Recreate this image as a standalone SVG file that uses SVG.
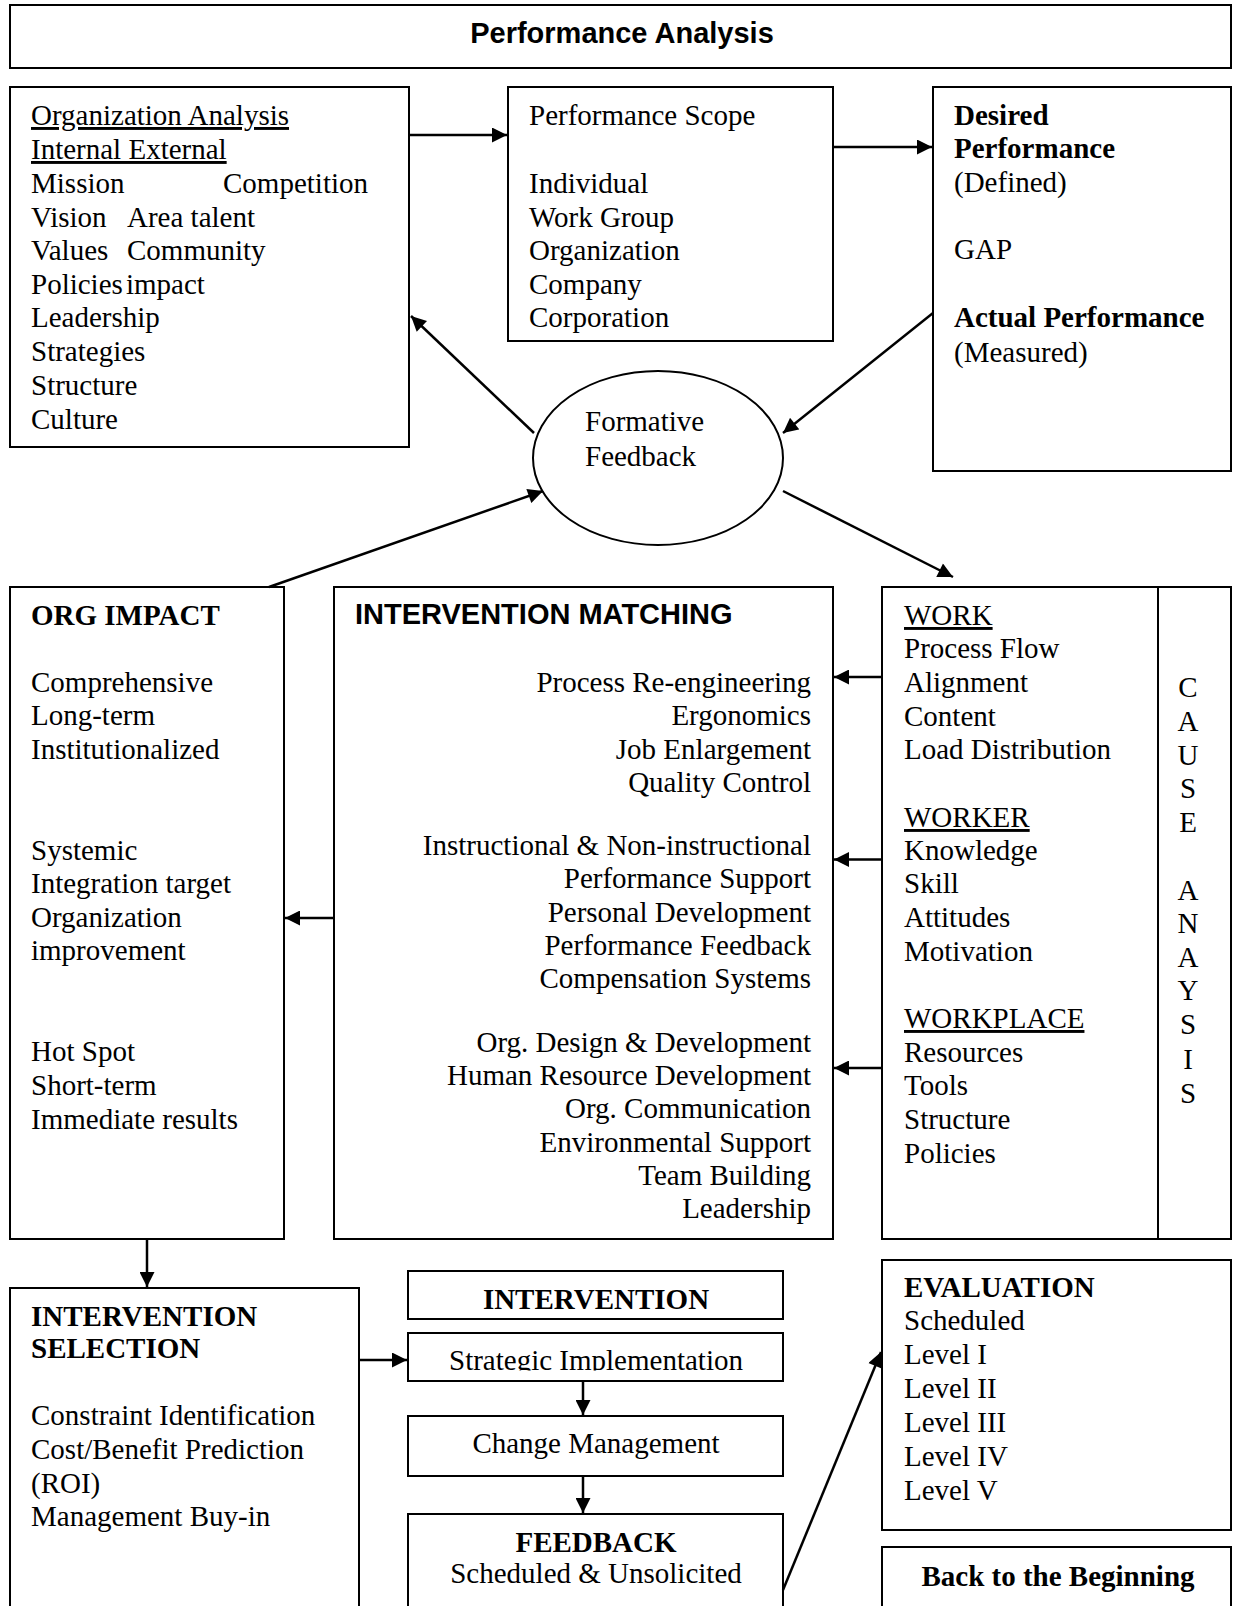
<svg xmlns="http://www.w3.org/2000/svg" width="1234" height="1606" viewBox="0 0 1234 1606">
<style>
.box{fill:#fff;stroke:#000;stroke-width:2}
.t{font-family:"Liberation Serif","Times New Roman",serif;font-size:29px;fill:#000}
.b{font-weight:bold}
.s{font-family:"Liberation Sans",Arial,sans-serif;font-weight:bold;fill:#000}
.u{text-decoration:underline}
.c{text-anchor:middle}
.r{text-anchor:end}
.ln{stroke:#000;stroke-width:2.5;fill:none}
</style>
<defs>
<marker id="ah" viewBox="0 0 16 16" refX="16" refY="8" markerWidth="16" markerHeight="15" markerUnits="userSpaceOnUse" orient="auto">
<path d="M0,0 L16,8 L0,16 z" fill="#000"/>
</marker>
<clipPath id="clipSI"><rect x="408" y="1333" width="375" height="37.5"/></clipPath>
</defs>
<rect width="1234" height="1606" fill="#fff"/>

<g id="title">
<rect class="box" x="10" y="5" width="1221" height="63"/>
<text class="s c" x="622" y="43" font-size="29">Performance Analysis</text>
</g>

<g id="org-analysis">
<rect class="box" x="10" y="87" width="399" height="360"/>
<text class="t u" x="31" y="125">Organization Analysis</text>
<text class="t u" x="31" y="159">Internal External</text>
<text class="t" x="31" y="193">Mission<tspan x="223">Competition</tspan></text>
<text class="t" x="31" y="227">Vision<tspan x="127">Area talent</tspan></text>
<text class="t" x="31" y="260">Values<tspan x="127">Community</tspan></text>
<text class="t" x="31" y="294">Policies<tspan x="126">impact</tspan></text>
<text class="t" x="31" y="327">Leadership</text>
<text class="t" x="31" y="361">Strategies</text>
<text class="t" x="31" y="395">Structure</text>
<text class="t" x="31" y="429" font-size="31">Culture</text>
</g>

<g id="performance-scope">
<rect class="box" x="508" y="87" width="325" height="254"/>
<text class="t" x="529" y="125">Performance Scope</text>
<text class="t" x="529" y="193">Individual</text>
<text class="t" x="529" y="227">Work Group</text>
<text class="t" x="529" y="260">Organization</text>
<text class="t" x="529" y="294">Company</text>
<text class="t" x="529" y="327">Corporation</text>
</g>

<g id="desired-performance">
<rect class="box" x="933" y="87" width="298" height="384"/>
<text class="t b" x="954" y="125">Desired</text>
<text class="t b" x="954" y="158">Performance</text>
<text class="t" x="954" y="192">(Defined)</text>
<text class="t" x="954" y="259">GAP</text>
<text class="t b" x="954" y="327">Actual Performance</text>
<text class="t" x="954" y="362">(Measured)</text>
</g>

<g id="formative-feedback">
<ellipse cx="658" cy="458" rx="125" ry="87" fill="#fff" stroke="#000" stroke-width="2"/>
<text class="t" x="585" y="431">Formative</text>
<text class="t" x="585" y="466">Feedback</text>
</g>

<g id="org-impact">
<rect class="box" x="10" y="587" width="274" height="652"/>
<text class="t b" x="31" y="625">ORG IMPACT</text>
<text class="t" x="31" y="692">Comprehensive</text>
<text class="t" x="31" y="725">Long-term</text>
<text class="t" x="31" y="759">Institutionalized</text>
<text class="t" x="31" y="860">Systemic</text>
<text class="t" x="31" y="893">Integration target</text>
<text class="t" x="31" y="927">Organization</text>
<text class="t" x="31" y="960">improvement</text>
<text class="t" x="31" y="1061">Hot Spot</text>
<text class="t" x="31" y="1095">Short-term</text>
<text class="t" x="31" y="1129">Immediate results</text>
</g>

<g id="intervention-matching">
<rect class="box" x="334" y="587" width="499" height="652"/>
<text class="s" x="355" y="624" font-size="29">INTERVENTION MATCHING</text>
<text class="t r" x="811" y="692">Process Re-engineering</text>
<text class="t r" x="811" y="725">Ergonomics</text>
<text class="t r" x="811" y="759">Job Enlargement</text>
<text class="t r" x="811" y="792">Quality Control</text>
<text class="t r" x="811" y="855">Instructional &amp; Non-instructional</text>
<text class="t r" x="811" y="888">Performance Support</text>
<text class="t r" x="811" y="922">Personal Development</text>
<text class="t r" x="811" y="955">Performance Feedback</text>
<text class="t r" x="811" y="988">Compensation Systems</text>
<text class="t r" x="811" y="1052">Org. Design &amp; Development</text>
<text class="t r" x="811" y="1085">Human Resource Development</text>
<text class="t r" x="811" y="1118">Org. Communication</text>
<text class="t r" x="811" y="1152">Environmental Support</text>
<text class="t r" x="811" y="1185">Team Building</text>
<text class="t r" x="811" y="1218">Leadership</text>
</g>

<g id="cause-analysis">
<rect class="box" x="882" y="587" width="349" height="652"/>
<line x1="1158" y1="587" x2="1158" y2="1239" stroke="#000" stroke-width="2"/>
<text class="t u" x="904" y="625">WORK</text>
<text class="t" x="904" y="658">Process Flow</text>
<text class="t" x="904" y="692">Alignment</text>
<text class="t" x="904" y="726">Content</text>
<text class="t" x="904" y="759">Load Distribution</text>
<text class="t u" x="904" y="827">WORKER</text>
<text class="t" x="904" y="860">Knowledge</text>
<text class="t" x="904" y="893">Skill</text>
<text class="t" x="904" y="927">Attitudes</text>
<text class="t" x="904" y="961">Motivation</text>
<text class="t u" x="904" y="1028">WORKPLACE</text>
<text class="t" x="904" y="1062">Resources</text>
<text class="t" x="904" y="1095">Tools</text>
<text class="t" x="904" y="1129">Structure</text>
<text class="t" x="904" y="1163">Policies</text>
<text class="t c" x="1188" y="697">C</text>
<text class="t c" x="1188" y="731">A</text>
<text class="t c" x="1188" y="765">U</text>
<text class="t c" x="1188" y="798">S</text>
<text class="t c" x="1188" y="832">E</text>
<text class="t c" x="1188" y="900">A</text>
<text class="t c" x="1188" y="933">N</text>
<text class="t c" x="1188" y="967">A</text>
<text class="t c" x="1188" y="1000">Y</text>
<text class="t c" x="1188" y="1034">S</text>
<text class="t c" x="1188" y="1069">I</text>
<text class="t c" x="1188" y="1103">S</text>
</g>

<g id="intervention-selection">
<rect class="box" x="10" y="1288" width="349" height="330"/>
<text class="t b" x="31" y="1326">INTERVENTION</text>
<text class="t b" x="31" y="1358">SELECTION</text>
<text class="t" x="31" y="1425">Constraint Identification</text>
<text class="t" x="31" y="1459">Cost/Benefit Prediction</text>
<text class="t" x="31" y="1493">(ROI)</text>
<text class="t" x="31" y="1526">Management Buy-in</text>
</g>

<g id="intervention">
<rect class="box" x="408" y="1271" width="375" height="48"/>
<text class="t b c" x="596" y="1309">INTERVENTION</text>
</g>

<g id="strategic-implementation">
<rect class="box" x="408" y="1333" width="375" height="48"/>
<text class="t c" x="596" y="1370" clip-path="url(#clipSI)">Strategic Implementation</text>
</g>

<g id="change-management">
<rect class="box" x="408" y="1416" width="375" height="60"/>
<text class="t c" x="596" y="1453">Change Management</text>
</g>

<g id="feedback">
<rect class="box" x="408" y="1514" width="375" height="104"/>
<text class="t b c" x="596" y="1552">FEEDBACK</text>
<text class="t c" x="596" y="1583">Scheduled &amp; Unsolicited</text>
</g>

<g id="evaluation">
<rect class="box" x="882" y="1260" width="349" height="270"/>
<text class="t b" x="904" y="1297">EVALUATION</text>
<text class="t" x="904" y="1330">Scheduled</text>
<text class="t" x="904" y="1364">Level I</text>
<text class="t" x="904" y="1398">Level II</text>
<text class="t" x="904" y="1432">Level III</text>
<text class="t" x="904" y="1466">Level IV</text>
<text class="t" x="904" y="1500">Level V</text>
</g>

<g id="back-to-beginning">
<rect class="box" x="882" y="1547" width="349" height="70"/>
<text class="t b c" x="1058" y="1586">Back to the Beginning</text>
</g>

<g id="connectors">
<line class="ln" x1="409" y1="135" x2="507" y2="135" marker-end="url(#ah)"/>
<line class="ln" x1="833" y1="147" x2="932" y2="147" marker-end="url(#ah)"/>
<line class="ln" x1="534" y1="433" x2="411" y2="316" marker-end="url(#ah)"/>
<line class="ln" x1="933" y1="313" x2="783" y2="433" marker-end="url(#ah)"/>
<line class="ln" x1="269" y1="587" x2="543" y2="491" marker-end="url(#ah)"/>
<line class="ln" x1="783" y1="491" x2="953" y2="577" marker-end="url(#ah)"/>
<line class="ln" x1="882" y1="677" x2="834" y2="677" marker-end="url(#ah)"/>
<line class="ln" x1="882" y1="859.5" x2="834" y2="859.5" marker-end="url(#ah)"/>
<line class="ln" x1="882" y1="1068" x2="834" y2="1068" marker-end="url(#ah)"/>
<line class="ln" x1="334" y1="918" x2="285" y2="918" marker-end="url(#ah)"/>
<line class="ln" x1="147" y1="1239" x2="147" y2="1287" marker-end="url(#ah)"/>
<line class="ln" x1="359" y1="1360" x2="407" y2="1360" marker-end="url(#ah)"/>
<line class="ln" x1="583" y1="1382" x2="583" y2="1415" marker-end="url(#ah)"/>
<line class="ln" x1="583" y1="1476" x2="583" y2="1513" marker-end="url(#ah)"/>
<line class="ln" x1="783" y1="1590" x2="881" y2="1352" marker-end="url(#ah)"/>
</g>
</svg>
